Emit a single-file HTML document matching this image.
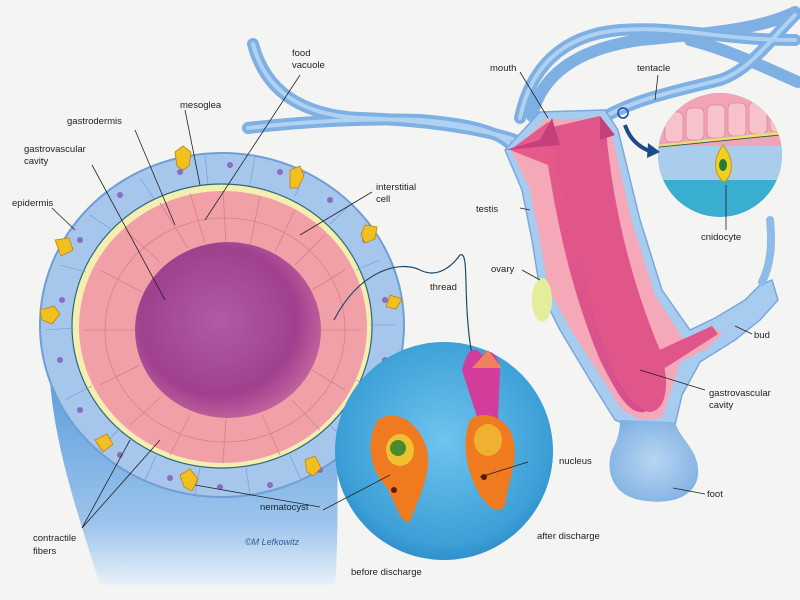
<!DOCTYPE html>
<html><head><meta charset="utf-8"><style>
html,body{margin:0;padding:0;background:#f4f4f2;}
svg{display:block}
text{font-family:"Liberation Sans",sans-serif;font-size:9.5px;fill:#222}
</style></head><body>
<svg width="800" height="600" viewBox="0 0 800 600" xmlns="http://www.w3.org/2000/svg">
<defs>
<radialGradient id="cav" cx="0.45" cy="0.45" r="0.6"><stop offset="0" stop-color="#b05aa8"/><stop offset="0.7" stop-color="#a0408f"/><stop offset="1" stop-color="#c86aa0"/></radialGradient>
<linearGradient id="cyl" x1="0" y1="0" x2="0" y2="1"><stop offset="0" stop-color="#5f9fdc"/><stop offset="0.7" stop-color="#9cc4ec"/><stop offset="1" stop-color="#e8f0f8"/></linearGradient>
<radialGradient id="big" cx="0.5" cy="0.45" r="0.6"><stop offset="0" stop-color="#6ec4ee"/><stop offset="0.8" stop-color="#3c9fd6"/><stop offset="1" stop-color="#2a86c4"/></radialGradient>
<linearGradient id="hb" x1="0" y1="0" x2="1" y2="1"><stop offset="0" stop-color="#e85c8a"/><stop offset="1" stop-color="#d44e8c"/></linearGradient>
<radialGradient id="foot" cx="0.5" cy="0.5" r="0.6"><stop offset="0" stop-color="#b8d6f2"/><stop offset="1" stop-color="#7fb0e2"/></radialGradient>
<clipPath id="c1"><circle cx="720" cy="155" r="62"/></clipPath>
</defs>
<rect width="800" height="600" fill="#f4f4f2"/>

<!-- tentacles -->
<g fill="none" stroke="#7fb0e4" stroke-width="12" stroke-linecap="round">
<path d="M253,44 C265,90 300,115 360,118 C420,120 480,128 515,140"/>
<path d="M248,128 C300,122 360,118 420,120 C470,124 500,132 512,146"/>
<path d="M520,118 C530,70 560,35 620,30 C680,26 720,40 795,40"/>
<path d="M532,116 C540,80 570,50 640,40 C700,34 760,30 795,12"/>
<path d="M600,120 C630,100 680,90 720,80 C750,70 770,40 795,15"/>
<path d="M690,40 C730,50 770,70 798,82"/>
</g>
<g fill="none" stroke="#b0d2f2" stroke-width="4" stroke-linecap="round">
<path d="M253,44 C265,90 300,115 360,118 C420,120 480,128 515,140"/>
<path d="M248,128 C300,122 360,118 420,120 C470,124 500,132 512,146"/>
<path d="M520,118 C530,70 560,35 620,30 C680,26 720,40 795,40"/>
<path d="M600,120 C630,100 680,90 720,80 C750,70 770,40 795,15"/>
</g>

<!-- hydra body -->
<path d="M505,150 L540,112 L605,110 L618,130 L640,220 L662,290 L690,330 L715,318 L745,300 L760,285 L772,280 L778,300 L760,320 L735,340 L700,362 L682,395 L675,425 L640,430 L615,420 L590,380 L560,330 L540,290 L532,240 L522,190 Z" fill="#a8ccf0" stroke="#7aa8dc" stroke-width="1.5"/>
<path d="M762,282 C772,262 772,240 770,220" stroke="#8fbbe8" stroke-width="8" fill="none" stroke-linecap="round"/>
<path d="M512,152 L545,120 L600,118 L612,135 L632,222 L655,295 L684,340 L712,326 L722,334 L705,350 L680,362 L668,400 L662,418 L640,420 L622,410 L598,372 L568,325 L548,288 L540,240 L530,190 Z" fill="#f4a8b8"/>
<path d="M510,150 L548,122 L560,130 C575,180 590,260 620,330 C640,380 650,400 645,412 C630,414 620,400 600,360 C575,300 560,240 548,165 Z" fill="url(#hb)"/>
<path d="M548,128 L600,116 L606,130 C612,200 630,280 660,350 C670,380 668,410 650,412 C630,410 610,370 595,320 C580,260 565,200 548,128Z" fill="#e0558a"/>
<path d="M505,150 L540,140 L552,118 L560,145 Z" fill="#c4407a"/>
<path d="M600,116 L615,135 L600,140 Z" fill="#c4407a"/>
<path d="M655,352 L712,326 L718,334 L665,368 Z" fill="#e0558a"/>
<ellipse cx="542" cy="300" rx="10" ry="22" fill="#e4ee9a"/>
<!-- foot -->
<path d="M620,420 L675,422 C680,440 700,450 698,475 C695,500 665,505 640,500 C612,495 605,470 612,450 C618,440 620,430 620,420Z" fill="url(#foot)"/>

<!-- top-right inset -->
<circle cx="720" cy="155" r="62" fill="#3aaed0"/>
<g clip-path="url(#c1)">
<rect x="650" y="90" width="140" height="58" fill="#f3a4b4"/>
<rect x="650" y="146" width="140" height="34" fill="#a9cdea"/>
<g fill="#f8c2cc" stroke="#d88898" stroke-width="0.8">
<rect x="665" y="112" width="18" height="30" rx="5"/><rect x="686" y="108" width="18" height="32" rx="5"/><rect x="707" y="105" width="18" height="33" rx="5"/><rect x="728" y="103" width="18" height="33" rx="5"/><rect x="749" y="102" width="18" height="32" rx="5"/><rect x="770" y="100" width="18" height="32" rx="5"/>
</g>
<path d="M650,147 L790,132" stroke="#e8e070" stroke-width="3"/>
<path d="M650,148 L790,134" stroke="#2a5060" stroke-width="0.8"/>
</g>
<path d="M723,145 C735,160 733,175 724,182 C714,175 712,160 723,145Z" fill="#f0d020" stroke="#d09010"/>
<ellipse cx="723" cy="165" rx="4" ry="6" fill="#2a7a30"/>
<circle cx="623" cy="113" r="5" fill="none" stroke="#1d4a8a" stroke-width="1.5"/>
<path d="M625,125 C630,140 640,148 652,152" stroke="#1d4a8a" stroke-width="4" fill="none"/>
<path d="M648,143 L660,152 L647,158Z" fill="#1d4a8a"/>

<!-- cross section cylinder -->
<path d="M50,380 C55,450 80,520 100,585 L335,585 C340,520 335,460 340,380 Z" fill="url(#cyl)"/>
<ellipse cx="222" cy="325" rx="182" ry="172" fill="#a6c6ec" stroke="#6f9fd6" stroke-width="2"/>
<ellipse cx="222" cy="326" rx="150" ry="142" fill="#f4efb0" stroke="#2c6a78" stroke-width="1.2"/>
<ellipse cx="223" cy="327" rx="144" ry="136" fill="#f2a0a8"/>
<g stroke="#d87e8c" stroke-width="0.8" fill="none">
<ellipse cx="225" cy="330" rx="120" ry="112"/>
<path d="M223,191 L226,242 M260,196 L250,245 M295,210 L275,252 M325,235 L295,265 M345,270 L312,290 M362,330 L320,330 M345,390 L312,370 M320,430 L292,400 M280,455 L262,415 M223,463 L226,418 M170,455 L190,415 M130,425 L160,398 M100,385 L140,365 M84,330 L136,330 M100,270 L142,292 M125,230 L160,262 M160,203 L188,248 M190,193 L205,243"/>
</g>
<ellipse cx="228" cy="330" rx="93" ry="88" fill="url(#cav)"/>
<g stroke="#6a9ad0" stroke-width="0.6" fill="none">
<path d="M205,155 L208,184 M255,156 L250,185 M305,172 L295,196 M350,205 L330,224 M380,260 L356,270 M396,325 L370,325 M380,390 L356,380 M350,445 L330,425 M300,478 L290,455 M250,494 L246,468 M195,494 L200,468 M145,480 L156,456 M100,450 L120,428 M65,400 L92,386 M45,330 L74,328 M60,265 L86,272 M90,215 L112,230 M140,178 L155,200"/>
</g>
<g fill="#8c6cc0">
<circle cx="180" cy="172" r="3"/><circle cx="230" cy="165" r="3"/><circle cx="280" cy="172" r="3"/><circle cx="330" cy="200" r="3"/><circle cx="365" cy="240" r="3"/><circle cx="385" cy="300" r="3"/><circle cx="385" cy="360" r="3"/><circle cx="365" cy="420" r="3"/><circle cx="320" cy="470" r="3"/><circle cx="270" cy="485" r="3"/><circle cx="220" cy="487" r="3"/><circle cx="170" cy="478" r="3"/><circle cx="120" cy="455" r="3"/><circle cx="80" cy="410" r="3"/><circle cx="60" cy="360" r="3"/><circle cx="62" cy="300" r="3"/><circle cx="80" cy="240" r="3"/><circle cx="120" cy="195" r="3"/>
</g>
<g fill="#f0c020" stroke="#c08010" stroke-width="0.8">
<path d="M175,152 l8,-6 l8,6 l-2,14 l-6,4 l-6,-4z"/><path d="M290,170 l10,-4 l4,10 l-6,12 l-8,0 z"/><path d="M365,225 l12,2 l-2,12 l-10,4 l-4,-8z"/><path d="M390,295 l12,4 l-6,10 l-10,-2z"/><path d="M305,460 l10,-4 l6,12 l-8,8 l-6,-4z"/><path d="M180,475 l10,-6 l8,10 l-6,12 l-8,-4z"/><path d="M95,440 l12,-6 l6,10 l-10,8z"/><path d="M40,310 l14,-4 l6,8 l-8,10 l-10,-4z"/><path d="M55,240 l14,-2 l4,12 l-12,6z"/>
</g>

<!-- big inset -->
<circle cx="444" cy="451" r="109" fill="url(#big)"/>
<path d="M334,320 C360,270 400,260 420,270 C440,280 455,262 460,255 C470,250 462,300 472,355" fill="none" stroke="#1f4a6a" stroke-width="1.2"/>
<path d="M482,355 C470,340 465,360 462,370 L478,420 L498,420 L500,370 C500,360 492,345 482,355Z" fill="#d23c9a"/>
<path d="M472,368 L488,350 L502,368 Z" fill="#f08060"/>
<path d="M470,420 C460,445 468,475 480,495 C490,510 500,515 505,505 C508,480 520,460 512,435 C505,415 480,410 470,420Z" fill="#f07a20"/>
<path d="M378,420 C365,440 370,470 385,485 C395,500 400,525 410,522 C415,505 430,480 428,455 C425,430 400,405 378,420Z" fill="#f07a20"/>
<ellipse cx="400" cy="450" rx="14" ry="16" fill="#f0c030"/>
<ellipse cx="398" cy="448" rx="8" ry="8" fill="#4a8a30"/>
<ellipse cx="488" cy="440" rx="14" ry="16" fill="#f0b030"/>
<circle cx="484" cy="477" r="3" fill="#5a1a10"/><circle cx="394" cy="490" r="3" fill="#5a1a10"/>

<g stroke="#222" stroke-width="0.8" fill="none">
<line x1="52" y1="208" x2="75" y2="230"/>
<line x1="92" y1="165" x2="165" y2="300"/>
<line x1="135" y1="130" x2="175" y2="225"/>
<line x1="185" y1="110" x2="200" y2="185"/>
<line x1="300" y1="75" x2="205" y2="220"/>
<line x1="372" y1="192" x2="300" y2="235"/>
<line x1="520" y1="72" x2="548" y2="118"/>
<line x1="658" y1="75" x2="655" y2="100"/>
<line x1="520" y1="208" x2="530" y2="210"/>
<line x1="522" y1="270" x2="540" y2="280"/>
<line x1="726" y1="185" x2="726" y2="230"/>
<line x1="735" y1="326" x2="752" y2="334"/>
<line x1="640" y1="370" x2="705" y2="390"/>
<line x1="673" y1="488" x2="705" y2="494"/>
<line x1="320" y1="507" x2="195" y2="485"/>
<line x1="323" y1="510" x2="390" y2="475"/>
<line x1="480" y1="477" x2="528" y2="462"/>
<line x1="82" y1="528" x2="130" y2="440"/>
<line x1="82" y1="528" x2="160" y2="440"/>
</g>

<text x="292" y="56">food</text><text x="292" y="68">vacuole</text>
<text x="180" y="108">mesoglea</text>
<text x="67" y="124">gastrodermis</text>
<text x="24" y="152">gastrovascular</text><text x="24" y="164">cavity</text>
<text x="12" y="206">epidermis</text>
<text x="376" y="190">interstitial</text><text x="376" y="202">cell</text>
<text x="430" y="290">thread</text>
<text x="490" y="71">mouth</text>
<text x="637" y="71">tentacle</text>
<text x="476" y="212">testis</text>
<text x="491" y="272">ovary</text>
<text x="701" y="240">cnidocyte</text>
<text x="754" y="338">bud</text>
<text x="709" y="396">gastrovascular</text><text x="709" y="408">cavity</text>
<text x="559" y="464">nucleus</text>
<text x="707" y="497">foot</text>
<text x="260" y="510">nematocyst</text>
<text x="537" y="539">after discharge</text>
<text x="351" y="575">before discharge</text>
<text x="33" y="541">contractile</text><text x="33" y="554">fibers</text>
<text x="245" y="545" style="font-style:italic;font-size:9px;fill:#3a5a9a">©M Lefkowitz</text>
</svg>
</body></html>
